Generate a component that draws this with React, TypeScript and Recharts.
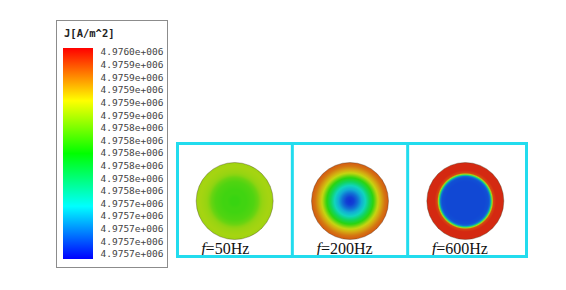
import React from "react";
import {
  BarChart,
  Bar,
  XAxis,
  YAxis,
  ScatterChart,
  Scatter,
  ReferenceLine,
} from "recharts";

// colour scale tick labels, top to bottom
const LEGEND_TICKS = [
  "4.9760e+006",
  "4.9759e+006",
  "4.9759e+006",
  "4.9759e+006",
  "4.9759e+006",
  "4.9759e+006",
  "4.9758e+006",
  "4.9758e+006",
  "4.9758e+006",
  "4.9758e+006",
  "4.9758e+006",
  "4.9758e+006",
  "4.9757e+006",
  "4.9757e+006",
  "4.9757e+006",
  "4.9757e+006",
  "4.9757e+006",
];
const SCALE_MIN = -0.4;
const SCALE_MAX = 16.32;

// cross sections
const FREQS = [50, 200, 600];
// relative radius of the sample rings (0 = centre, 1 = surface)
const RADII = [0, 0.1, 0.2, 0.3, 0.4, 0.5, 0.6, 0.64, 0.67, 0.7, 0.73, 0.8, 0.9, 1];
// normalised current density (0 = min, 1 = max) at each radius
const J_50 = [0.55, 0.55, 0.56, 0.56, 0.57, 0.58, 0.61, 0.63, 0.65, 0.66, 0.67, 0.68, 0.69, 0.68];
const J_200 = [0.04, 0.06, 0.12, 0.2, 0.28, 0.4, 0.53, 0.59, 0.64, 0.69, 0.73, 0.8, 0.87, 0.91];
const J_600 = [0.07, 0.07, 0.07, 0.07, 0.07, 0.07, 0.08, 0.12, 0.35, 0.7, 0.93, 0.97, 0.97, 0.97];
const PROFILES = [J_50, J_200, J_600];

const CYAN = "#22dcee";
const JET = [
  [0, 0, 255],
  [0, 255, 255],
  [0, 255, 0],
  [255, 255, 0],
  [255, 0, 0],
];

function jet(t: number, shade = false) {
  const s = Math.max(0, Math.min(1, t)) * 4;
  const i = Math.min(3, Math.floor(s));
  const f = s - i;
  let c = JET[i].map((v, k) => v + (JET[i + 1][k] - v) * f);
  if (shade) c = c.map((v) => (v * 0.85 + 128 * 0.15) * 0.9);
  return `rgb(${c.map((v) => Math.round(v)).join(",")})`;
}

const legendData = [{ name: "J", range: [SCALE_MIN, SCALE_MAX] }];
const sectionData = FREQS.map((f, i) => ({
  x: i + 0.5,
  y: 0.5,
  freq: f,
  profile: PROFILES[i],
}));

const R = 38.5;

const Section = (props: any) => {
  const { cx, cy, payload, index } = props;
  const id = `sec-${payload.freq}`;
  return (
    <g key={index}>
      <defs>
        <radialGradient id={id} cx="50%" cy="50%" r="50%">
          {RADII.map((r, k) => (
            <stop key={k} offset={r} stopColor={jet(payload.profile[k], true)} />
          ))}
        </radialGradient>
      </defs>
      <circle
        cx={cx}
        cy={cy}
        r={R}
        fill={`url(#${id})`}
        stroke="rgba(70,55,30,0.45)"
        strokeWidth={0.8}
      />
      <text
        x={cx - R + 5}
        y={cy + 53}
        fontFamily="'Liberation Serif', 'Times New Roman', serif"
        fontSize={16}
        fill="#111"
      >
        <tspan fontStyle="italic">f</tspan>={payload.freq}Hz
      </text>
    </g>
  );
};

export default function App() {
  return (
    <div
      style={{
        position: "absolute",
        left: 0,
        top: 0,
        width: 566,
        height: 290,
        background: "#fff",
        overflow: "hidden",
      }}
    >
      {/* colour legend */}
      <div
        style={{
          position: "absolute",
          left: 56,
          top: 20,
          width: 112,
          height: 248,
          border: "1px solid #8c8c8c",
          boxSizing: "border-box",
        }}
      />
      <div
        style={{
          position: "absolute",
          left: 64,
          top: 27,
          fontFamily: "'DejaVu Sans Mono', monospace",
          fontWeight: "bold",
          fontSize: 10.5,
          lineHeight: "12px",
          color: "#222",
        }}
      >
        J[A/m^2]
      </div>
      <div style={{ position: "absolute", left: 58, top: 40 }}>
        <BarChart
          width={110}
          height={226}
          data={legendData}
          margin={{ top: 8, right: 0, left: 5, bottom: 7 }}
          barCategoryGap={0}
        >
          <defs>
            <linearGradient id="jetbar" x1="0" y1="0" x2="0" y2="1">
              {JET.map((_, k) => (
                <stop key={k} offset={k / 4} stopColor={jet(1 - k / 4)} />
              ))}
            </linearGradient>
          </defs>
          <XAxis dataKey="name" type="category" hide />
          <YAxis
            orientation="right"
            type="number"
            width={75.5}
            domain={[SCALE_MIN, SCALE_MAX]}
            allowDataOverflow
            ticks={LEGEND_TICKS.map((_, i) => i)}
            interval={0}
            tickFormatter={(v: number) => LEGEND_TICKS[LEGEND_TICKS.length - 1 - v]}
            tick={{
              fontSize: 9.5,
              fill: "#444",
              fontFamily: "'DejaVu Sans Mono', monospace",
            }}
            axisLine={false}
            tickLine={false}
          />
          <Bar dataKey="range" fill="url(#jetbar)" isAnimationActive={false} />
        </BarChart>
      </div>

      {/* cross sections */}
      <div style={{ position: "absolute", left: 177, top: 144 }}>
        <ScatterChart
          width={346}
          height={114}
          margin={{ top: 0, right: 0, left: 0, bottom: 0 }}
        >
          <XAxis type="number" dataKey="x" domain={[0, FREQS.length]} hide />
          <YAxis type="number" dataKey="y" domain={[0, 1]} hide />
          {FREQS.slice(1).map((_, i) => (
            <ReferenceLine key={i} x={i + 1} stroke={CYAN} strokeWidth={3} />
          ))}
          <Scatter data={sectionData} shape={Section} isAnimationActive={false} />
        </ScatterChart>
      </div>
      <div
        style={{
          position: "absolute",
          left: 176,
          top: 142,
          width: 352,
          height: 116,
          border: `3px solid ${CYAN}`,
          boxSizing: "border-box",
        }}
      />
    </div>
  );
}
